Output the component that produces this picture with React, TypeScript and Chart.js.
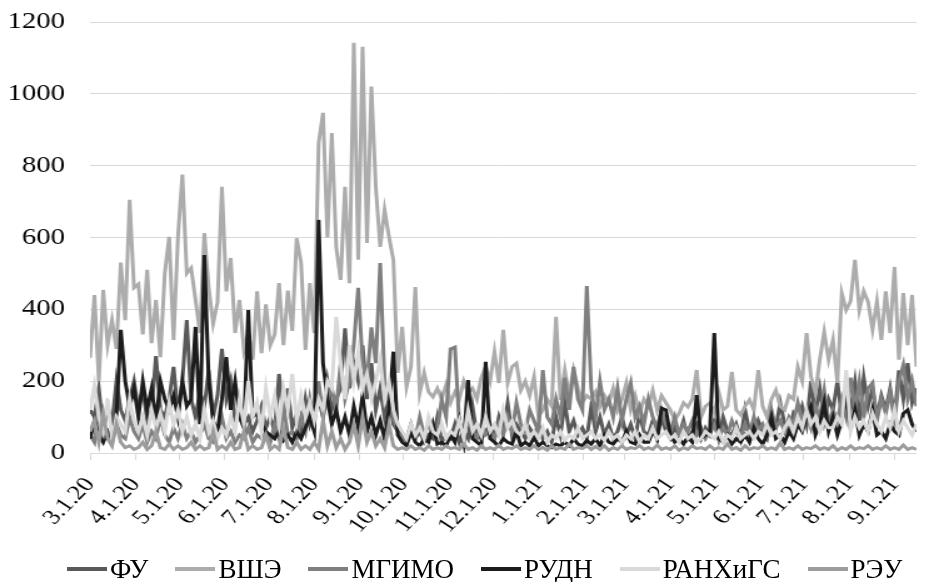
import React, { useEffect, useRef } from 'react';
import { Chart, registerables } from 'chart.js';

Chart.register(...registerables);

// Day offsets (from 3.1.20) of the first day of each month, and their labels
const MONTH_DAYS = [0, 31, 61, 92, 122, 153, 184, 214, 245, 275, 306, 337, 365, 396, 426, 457, 487, 518, 549];
const MONTH_LABELS = ['3.1.20', '4.1.20', '5.1.20', '6.1.20', '7.1.20', '8.1.20', '9.1.20', '10.1.20', '11.1.20', '12.1.20',
  '1.1.21', '2.1.21', '3.1.21', '4.1.21', '5.1.21', '6.1.21', '7.1.21', '8.1.21', '9.1.21'];
const STEP_DAYS = 3; // one reading every 3 days starting 3.1.20
const LAST_DAY = 564;

const SERIES_NAMES = ['ФУ', 'ВШЭ', 'МГИМО', 'РУДН', 'РАНХиГС', 'РЭУ'];
const SERIES_COLORS = ['#595959', '#acacac', '#7f7f7f', '#1c1c1c', '#d9d9d9', '#9c9c9c'];

const FU = [
  120, 100, 180, 60, 130, 80, 200, 120, 90, 150, 200,
  120, 180, 90, 120, 270, 120, 100, 150, 240, 110,
  200, 370, 150, 100, 170, 130, 230, 100, 160, 290,
  150, 200, 90, 120, 80, 100, 60, 90, 130, 70,
  100, 60, 220, 90, 180, 70, 110, 60, 150, 80,
  120, 150, 100, 200, 120, 150, 180, 347, 180, 250,
  200, 300, 150, 250, 120, 180, 100, 150, 80, 60,
  50, 40, 80, 40, 60, 30, 50, 40, 100, 30,
  50, 40, 80, 30, 60, 40, 130, 50, 40, 60,
  80, 40, 100, 60, 140, 50, 80, 60, 40, 70,
  50, 80, 40, 60, 30, 100, 50, 140, 60, 90,
  50, 70, 40, 130, 60, 100, 50, 80, 40, 60,
  100, 50, 80, 40, 110, 60, 50, 90, 40, 100,
  60, 40, 70, 50, 90, 40, 60, 80, 40, 70,
  50, 90, 40, 100, 60, 50, 80, 40, 120, 60,
  50, 90, 60, 40, 100, 70, 140, 80, 60, 110,
  90, 130, 80, 200, 110, 180, 90, 150, 120, 200,
  100, 150, 120, 200, 90, 210, 130, 180, 100, 160,
  120, 180, 100, 230, 150, 250, 140, 180,
];

const HSE = [
  265, 440, 200, 454, 300, 370, 290, 530, 370, 705, 460,
  470, 330, 510, 306, 426, 267, 500, 602, 315, 602,
  775, 500, 515, 426, 334, 612, 460, 360, 420, 741,
  450, 543, 334, 426, 287, 334, 260, 450, 278, 414,
  300, 330, 473, 300, 452, 340, 598, 530, 287, 473,
  334, 863, 947, 600, 891, 574, 482, 741, 473, 1142,
  538, 1131, 585, 1020, 741, 574, 677, 602, 538, 223,
  351, 184, 240, 462, 167, 223, 170, 156, 180, 150,
  190, 140, 170, 150, 200, 167, 180, 150, 210, 240,
  200, 282, 195, 343, 195, 240, 250, 175, 200, 160,
  212, 100, 120, 150, 130, 379, 148, 231, 160, 231,
  180, 140, 160, 150, 170, 130, 160, 140, 180, 120,
  150, 195, 120, 160, 110, 150, 130, 175, 120, 160,
  140, 120, 92, 110, 140, 128, 150, 231, 100, 130,
  140, 110, 170, 120, 130, 226, 120, 106, 130, 148,
  120, 231, 130, 100, 150, 175, 130, 120, 160, 150,
  240, 200, 334, 212, 167, 260, 337, 260, 315, 195,
  445, 398, 422, 538, 398, 450, 420, 343, 422, 315,
  450, 334, 518, 260, 445, 300, 440, 240,
];

const MGIMO = [
  50, 30, 120, 40, 60, 30, 80, 50, 40, 100, 60,
  40, 80, 30, 60, 40, 100, 50, 30, 70, 40,
  80, 40, 60, 30, 50, 80, 40, 30, 60, 100,
  40, 60, 30, 50, 40, 70, 30, 50, 40, 60,
  30, 80, 40, 130, 50, 60, 40, 100, 60, 150,
  80, 200, 100, 150, 180, 120, 250, 150, 200, 300,
  460, 250, 200, 350, 250, 529, 200, 150, 100, 60,
  40, 30, 60, 40, 100, 50, 80, 60, 60, 150,
  100, 290, 295, 80, 50, 100, 60, 40, 80, 50,
  60, 40, 80, 50, 100, 60, 140, 80, 60, 120,
  90, 60, 231, 100, 80, 150, 100, 210, 120, 240,
  150, 120, 465, 180, 100, 200, 120, 150, 100, 180,
  90, 150, 195, 100, 130, 80, 150, 100, 70, 120,
  80, 60, 100, 50, 80, 60, 90, 50, 70, 40,
  60, 80, 40, 70, 50, 90, 60, 40, 80, 50,
  100, 60, 80, 50, 120, 70, 90, 60, 100, 80,
  140, 90, 110, 70, 130, 100, 175, 80, 120, 90,
  150, 100, 210, 120, 200, 100, 180, 195, 90, 150,
  110, 170, 90, 200, 245, 150, 200, 130,
];

const RUDN = [
  40, 90, 50, 30, 60, 40, 100, 343, 200, 130, 180,
  100, 200, 120, 180, 90, 200, 150, 120, 160, 100,
  200, 130, 150, 351, 80, 551, 200, 90, 60, 150,
  267, 120, 200, 100, 70, 398, 100, 110, 80, 60,
  50, 40, 60, 35, 50, 30, 60, 40, 70, 100,
  60, 649, 250, 150, 80, 120, 60, 100, 50, 130,
  70, 160, 60, 100, 50, 90, 40, 120, 282, 50,
  30, 20, 60, 30, 20, 40, 30, 80, 25, 30,
  20, 50, 30, 90, 30, 203, 40, 30, 20, 254,
  40, 30, 20, 40, 30, 25, 60, 20, 30, 20,
  45, 20, 30, 20, 15, 25, 20, 30, 20, 40,
  25, 20, 35, 25, 40, 20, 50, 30, 25, 40,
  30, 60, 30, 25, 50, 30, 30, 60, 40, 125,
  120, 50, 30, 40, 25, 45, 30, 161, 40, 50,
  60, 334, 40, 30, 50, 25, 40, 30, 50, 30,
  70, 40, 25, 50, 100, 40, 50, 30, 60, 40,
  80, 60, 100, 130, 50, 80, 140, 60, 100, 50,
  90, 160, 70, 120, 50, 80, 60, 120, 50, 60,
  40, 80, 60, 50, 110, 120, 80, 60,
];

const RANEPA = [
  120, 188, 100, 60, 150, 40, 100, 80, 60, 150, 90,
  60, 100, 50, 120, 70, 110, 60, 140, 80, 120,
  60, 100, 50, 80, 40, 120, 60, 90, 40, 70,
  50, 100, 60, 150, 80, 200, 100, 140, 60, 180,
  100, 160, 80, 180, 120, 220, 90, 160, 100, 140,
  90, 150, 120, 200, 180, 379, 250, 150, 300, 200,
  280, 180, 220, 150, 200, 260, 150, 200, 120, 80,
  60, 40, 80, 50, 70, 40, 100, 60, 50, 80,
  40, 60, 50, 90, 40, 120, 60, 80, 50, 100,
  60, 80, 50, 120, 70, 90, 60, 50, 80, 40,
  60, 40, 70, 30, 50, 40, 60, 35, 50, 40,
  70, 40, 50, 60, 40, 50, 35, 60, 40, 50,
  30, 50, 40, 60, 30, 50, 40, 70, 40, 50,
  60, 40, 50, 30, 60, 40, 50, 30, 40, 60,
  50, 40, 60, 30, 50, 40, 70, 40, 50, 60,
  40, 60, 50, 80, 50, 60, 40, 70, 90, 60,
  100, 70, 120, 80, 100, 60, 90, 70, 70, 100,
  80, 231, 60, 100, 70, 90, 60, 110, 80, 60,
  100, 70, 120, 60, 90, 70, 50, 80,
];

const REU = [
  60, 90, 30, 110, 40, 20, 80, 30, 15, 20, 10,
  15, 30, 10, 20, 60, 15, 10, 25, 10, 20,
  10, 15, 30, 10, 20, 10, 15, 60, 10, 20,
  10, 30, 10, 15, 60, 10, 20, 10, 15, 50,
  10, 20, 10, 70, 15, 10, 30, 10, 20, 10,
  30, 10, 90, 20, 60, 15, 40, 10, 30, 80,
  20, 100, 30, 60, 20, 40, 15, 80, 20, 10,
  15, 10, 20, 10, 15, 8, 20, 10, 15, 10,
  20, 12, 15, 10, 25, 10, 15, 8, 20, 10,
  15, 10, 22, 10, 15, 12, 20, 10, 15, 10,
  20, 10, 15, 8, 20, 10, 15, 10, 25, 10,
  15, 12, 20, 10, 18, 10, 20, 8, 15, 10,
  20, 10, 15, 12, 20, 10, 15, 10, 22, 10,
  15, 10, 20, 8, 15, 10, 20, 12, 15, 10,
  20, 10, 15, 10, 25, 10, 15, 8, 20, 10,
  15, 12, 20, 10, 15, 10, 28, 10, 15, 10,
  20, 10, 15, 12, 20, 10, 15, 10, 20, 8,
  15, 10, 20, 10, 15, 12, 20, 10, 15, 10,
  20, 10, 15, 10, 22, 10, 15, 10,
];

const SERIES_VALUES = [FU, HSE, MGIMO, RUDN, RANEPA, REU];

const FONT = "'Liberation Serif', 'Times New Roman', serif";
const STRETCH = 1.25; // the plot of the reference is horizontally stretched
const W = 929;
const H = 582;

export default function App() {
  const ref = useRef<HTMLCanvasElement>(null);
  useEffect(() => {
    document.body.style.margin = '0';
    const canvas = ref.current!;
    const chart = new Chart(canvas, {
      type: 'line',
      data: {
        datasets: SERIES_NAMES.map((name, k) => ({
          label: name,
          data: SERIES_VALUES[k].map((v, i) => ({ x: i * STEP_DAYS, y: v })),
          borderColor: SERIES_COLORS[k],
          backgroundColor: SERIES_COLORS[k],
          borderWidth: 3,
          pointRadius: 0,
          tension: 0,
          fill: false,
          order: SERIES_NAMES.length - k,
        })),
      },
      options: {
        responsive: false,
        animation: false,
        devicePixelRatio: 1,
        layout: { padding: { top: 22, left: 0, right: 0, bottom: 0 } },
        plugins: {
          tooltip: { enabled: false },
          legend: { display: false },
        },
        scales: {
          x: {
            type: 'linear',
            min: 0,
            max: LAST_DAY,
            afterBuildTicks: (sc: any) => {
              sc.ticks = MONTH_DAYS.map((v) => ({ value: v }));
            },
            afterFit: (sc: any) => {
              sc.height = 129;
            },
            ticks: {
              autoSkip: false,
              minRotation: 51,
              maxRotation: 51,
              padding: 8,
              color: '#000',
              font: { family: FONT, size: 21 },
              callback: (v: any) => {
                const idx = MONTH_DAYS.indexOf(Number(v));
                return idx >= 0 ? MONTH_LABELS[idx] : '';
              },
            },
            grid: {
              drawOnChartArea: false,
              drawTicks: true,
              tickLength: 12,
              tickBorderDash: [6, 30],
              color: '#d9d9d9',
            },
            border: { display: true, color: '#d9d9d9' },
          },
          y: {
            min: 0,
            max: 1200,
            afterFit: (sc: any) => {
              sc.width = 72;
            },
            ticks: {
              stepSize: 200,
              padding: 0,
              color: '#000',
              font: { family: FONT, size: 23 },
              callback: (v: any) => String(v),
            },
            grid: { color: '#d9d9d9', drawTicks: true, tickLength: 20, tickColor: 'rgba(0,0,0,0)' },
            border: { display: false },
          },
        },
      },
    });
    return () => chart.destroy();
  }, []);
  return (
    <div style={{ position: 'fixed', left: 0, top: 0, width: W, height: H }}>
      <canvas
        ref={ref}
        width={Math.round(W / STRETCH)}
        height={H}
        style={{ width: `${W}px`, height: `${H}px`, display: 'block' }}
      />
      <div
        style={{
          position: 'absolute',
          left: 67,
          top: 554,
          display: 'flex',
          alignItems: 'center',
          gap: 27,
          fontFamily: FONT,
          fontSize: 27,
          lineHeight: '30px',
          color: '#000',
          whiteSpace: 'nowrap',
        }}
      >
        {SERIES_NAMES.map((name, k) => (
          <div key={name} style={{ display: 'flex', alignItems: 'center' }}>
            <span style={{ display: 'inline-block', width: 40, height: 4, background: SERIES_COLORS[k], marginRight: 3 }} />
            <span>{name}</span>
          </div>
        ))}
      </div>
    </div>
  );
}
